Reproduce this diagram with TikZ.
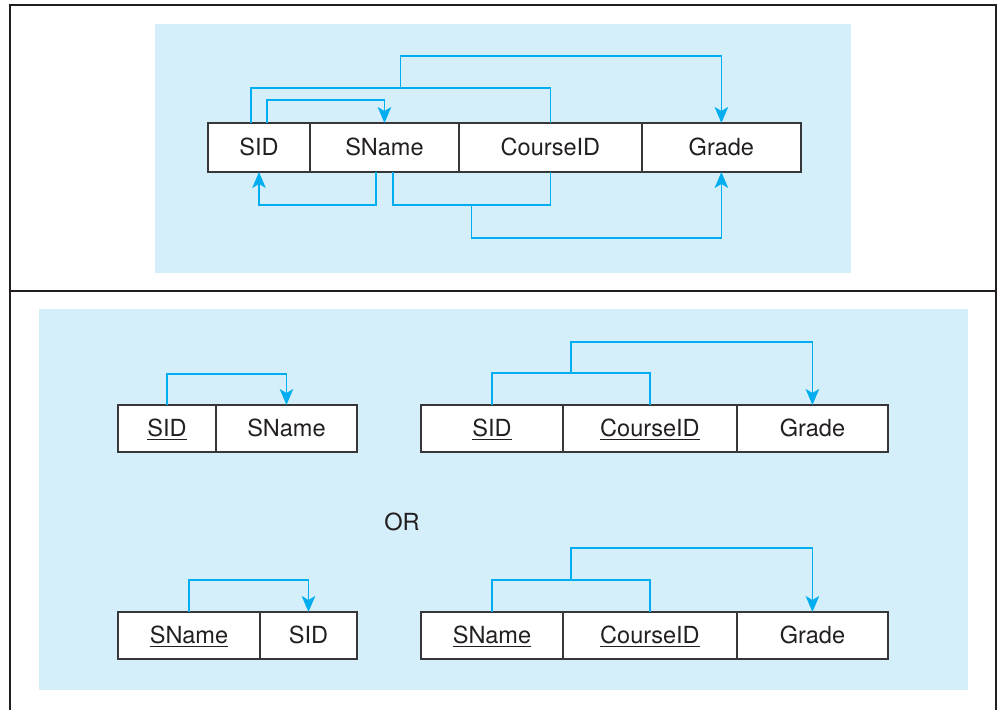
\documentclass[tikz,border=0pt]{standalone}
\usepackage{fontspec}
\setmainfont{TeX Gyre Heros}
\usepackage{xcolor}
\usetikzlibrary{arrows.meta, positioning}

\definecolor{panelblue}{RGB}{212,238,250}
\definecolor{linkcyan}{RGB}{0,174,239}
\definecolor{inkdark}{RGB}{35,31,32}
\definecolor{boxgray}{RGB}{55,55,58}

\newcommand{\keyattr}[1]{\underline{#1}}

\begin{document}
\begin{tikzpicture}[
    x=0.02cm, y=-0.02cm,
    cell/.style={
        rectangle, draw=boxgray, line width=0.9pt, fill=white,
        minimum height=0.98cm, inner sep=0pt, outer sep=0pt,
        text height=9.6pt, text depth=0pt,
        font=\fontsize{13.4}{15}\selectfont, text=inkdark
    },
    lowcell/.style={cell, minimum height=0.94cm},
    link/.style={draw=linkcyan, line width=0.75pt},
    arrow/.style={link, -{Stealth[length=0.32cm, width=0.27cm, inset=0.08cm]}},
    frame/.style={draw=inkdark, line width=1.4pt},
    panel/.style={fill=panelblue}
]
\useasboundingbox (0,0) rectangle (998,710);

% Outer frame and panels
\draw[frame] (10,710) -- (10,5) -- (996,5) -- (996,710);
\draw[frame, line width=1.1pt] (10,291) -- (996,291);
\fill[panel] (155,24) rectangle (851,273);
\fill[panel] (39,309) rectangle (968,690);

% Upper relation
\node[cell, minimum width=2.04cm, anchor=north west] (sid) at (208,123) {SID};
\node[cell, minimum width=2.98cm, right=0pt of sid]    (sname)  {SName};
\node[cell, minimum width=3.66cm, right=0pt of sname]  (course) {CourseID};
\node[cell, minimum width=3.18cm, right=0pt of course] (grade)  {Grade};

\draw[link]  ([xshift=-0.16cm]sid.north) -- ++(0,-35) -| coordinate[pos=0.25] (topjoin) (course.north);
\draw[arrow] (topjoin) -- ++(0,-32) -| (grade.north);
\draw[arrow] ([xshift=0.16cm]sid.north) -- ++(0,-23) -| (sname.north);
\draw[arrow] ([xshift=-0.17cm]sname.south) -- ++(0,33) -| (sid.south);
\draw[link]  ([xshift=0.17cm]sname.south) -- ++(0,33) -| coordinate[pos=0.25] (botjoin) (course.south);
\draw[arrow] (botjoin) -- ++(0,33) -| (grade.south);

% Lower relations, first choice
\node[lowcell, minimum width=1.96cm, anchor=north west] (sidA) at (118,405) {\keyattr{SID}};
\node[lowcell, minimum width=2.82cm, right=0pt of sidA] (snameA) {SName};
\node[lowcell, minimum width=2.84cm, anchor=north west] (sidB) at (421,405) {\keyattr{SID}};
\node[lowcell, minimum width=3.48cm, right=0pt of sidB]    (courseB) {\keyattr{CourseID}};
\node[lowcell, minimum width=3.02cm, right=0pt of courseB] (gradeB)  {Grade};

\draw[arrow] (sidA.north) -- ++(0,-31) -| (snameA.north);
\draw[link]  (sidB.north) -- ++(0,-32) -| coordinate[pos=0.25] (joinB) (courseB.north);
\draw[arrow] (joinB) -- ++(0,-31) -| (gradeB.north);

\node[font=\fontsize{13.4}{15}\selectfont, text=inkdark] (orword) at (402,522) {OR};

% Lower relations, second choice
\node[lowcell, minimum width=2.84cm, anchor=north west] (snameC) at (118,612) {\keyattr{SName}};
\node[lowcell, minimum width=1.94cm, right=0pt of snameC] (sidC) {SID};
\node[lowcell, minimum width=2.84cm, anchor=north west] (snameD) at (421,612) {\keyattr{SName}};
\node[lowcell, minimum width=3.48cm, right=0pt of snameD]  (courseD) {\keyattr{CourseID}};
\node[lowcell, minimum width=3.02cm, right=0pt of courseD] (gradeD)  {Grade};

\draw[arrow] (snameC.north) -- ++(0,-32) -| (sidC.north);
\draw[link]  (snameD.north) -- ++(0,-32) -| coordinate[pos=0.25] (joinD) (courseD.north);
\draw[arrow] (joinD) -- ++(0,-32) -| (gradeD.north);

\end{tikzpicture}
\end{document}
